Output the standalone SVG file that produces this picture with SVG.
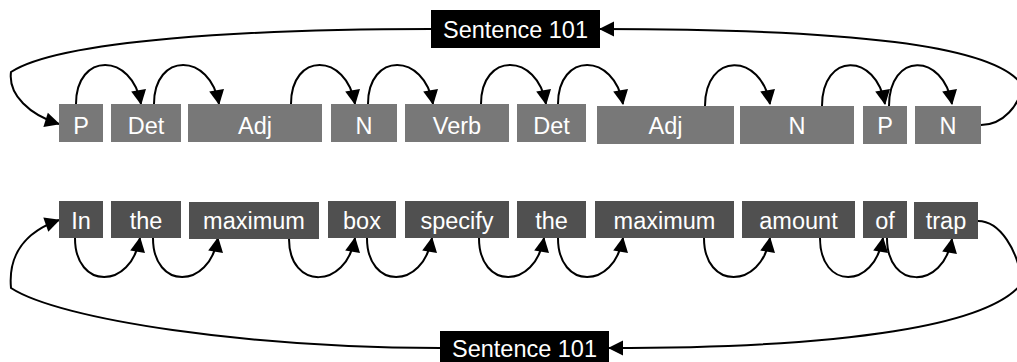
<svg xmlns="http://www.w3.org/2000/svg" width="1017" height="362" viewBox="0 0 1017 362">
<defs>
<marker id="ah" markerUnits="userSpaceOnUse" markerWidth="16" markerHeight="16" refX="14" refY="7.5" orient="auto" overflow="visible">
<path d="M0,0 L15,7.5 L0,15 z" fill="#000"/>
</marker>
<style>
.pos{fill:#787878}
.wrd{fill:#505050}
.sen{fill:#000}
.t{font-family:"Liberation Sans",Arial,sans-serif;font-size:23.5px;fill:#fff;text-anchor:middle}
.c{fill:none;stroke:#000;stroke-width:2}
.a{marker-end:url(#ah)}
</style>
</defs>
<g id="connectors">
<path class="c a" d="M76,104 C76,52 132,52 141,104"/>
<path class="c a" d="M154,104 C154,52 210,52 219,104"/>
<path class="c a" d="M291,104 C291,52 346,52 355,104"/>
<path class="c a" d="M368,104 C368,52 424,52 433,104"/>
<path class="c a" d="M481,104 C481,52 537,52 546,104"/>
<path class="c a" d="M558,104 C558,52 614,52 623,104"/>
<path class="c a" d="M705,106 C705,52 761,52 770,104"/>
<path class="c a" d="M822,106 C822,52 876,52 885,104"/>
<path class="c a" d="M889,106 C889,52 943,52 952,104"/>
<path class="c a" d="M75,238 C75,290 131,290 140,238"/>
<path class="c a" d="M153,238 C153,290 209,290 218,238"/>
<path class="c a" d="M289,239 C289,290 346,290 355,238"/>
<path class="c a" d="M367,238 C367,290 423,290 432,238"/>
<path class="c a" d="M479,238 C479,290 535,290 544,238"/>
<path class="c a" d="M558,238 C558,290 614,290 623,238"/>
<path class="c a" d="M704,238 C704,290 761,290 770,238"/>
<path class="c a" d="M820,238 C820,290 874,290 883,238"/>
<path class="c a" d="M887,238 C887,290 943,290 952,239"/>
<path class="c a" d="M431,29 C250,29 60,40 11,72 C8,95 30,115 59,124"/>
<path class="c a" d="M981,125 C1003,125 1020,105 1022,85 C995,45 850,29 600,29"/>
<path class="c a" d="M440,348 C250,348 60,320 11,288 C8,255 25,232 59,220"/>
<path class="c a" d="M978,221 C1000,221 1018,250 1022,283 C990,325 850,348 609,348"/>
</g>
<g id="sent-top"><rect class="sen" x="431" y="10" width="169" height="38"/><text class="t" x="515.5" y="37.5">Sentence 101</text></g>
<g id="sent-bottom"><rect class="sen" x="440" y="331" width="169" height="38"/><text class="t" x="524.5" y="356.5">Sentence 101</text></g>
<g id="p1"><rect class="pos" x="59" y="104" width="44" height="38"/><text class="t" x="81" y="133.5">P</text></g>
<g id="p2"><rect class="pos" x="111" y="104" width="70" height="38"/><text class="t" x="146" y="133.5">Det</text></g>
<g id="p3"><rect class="pos" x="188" y="104" width="134" height="38"/><text class="t" x="255" y="133.5">Adj</text></g>
<g id="p4"><rect class="pos" x="331" y="104" width="66" height="38"/><text class="t" x="364" y="133.5">N</text></g>
<g id="p5"><rect class="pos" x="405" y="104" width="104" height="38"/><text class="t" x="457" y="133.5">Verb</text></g>
<g id="p6"><rect class="pos" x="517" y="104" width="69" height="38"/><text class="t" x="551.5" y="133.5">Det</text></g>
<g id="p7"><rect class="pos" x="597" y="106" width="137" height="38"/><text class="t" x="665.5" y="133.5">Adj</text></g>
<g id="p8"><rect class="pos" x="740" y="106" width="114" height="38"/><text class="t" x="797" y="133.5">N</text></g>
<g id="p9"><rect class="pos" x="863" y="106" width="44" height="38"/><text class="t" x="885" y="133.5">P</text></g>
<g id="p10"><rect class="pos" x="915" y="106" width="66" height="38"/><text class="t" x="948" y="133.5">N</text></g>
<g id="w1"><rect class="wrd" x="59" y="201" width="44" height="37"/><text class="t" x="81" y="229">In</text></g>
<g id="w2"><rect class="wrd" x="111" y="201" width="70" height="37"/><text class="t" x="146" y="229">the</text></g>
<g id="w3"><rect class="wrd" x="189" y="202" width="130" height="37"/><text class="t" x="254" y="229">maximum</text></g>
<g id="w4"><rect class="wrd" x="328" y="201" width="68" height="37"/><text class="t" x="362" y="229">box</text></g>
<g id="w5"><rect class="wrd" x="405" y="201" width="104" height="37"/><text class="t" x="457" y="229">specify</text></g>
<g id="w6"><rect class="wrd" x="517" y="201" width="69" height="37"/><text class="t" x="551.5" y="229">the</text></g>
<g id="w7"><rect class="wrd" x="595" y="201" width="139" height="37"/><text class="t" x="664.5" y="229">maximum</text></g>
<g id="w8"><rect class="wrd" x="742" y="201" width="113" height="37"/><text class="t" x="798.5" y="229">amount</text></g>
<g id="w9"><rect class="wrd" x="863" y="201" width="44" height="37"/><text class="t" x="885" y="229">of</text></g>
<g id="w10"><rect class="wrd" x="914" y="202" width="64" height="37"/><text class="t" x="946" y="229">trap</text></g>
</svg>
